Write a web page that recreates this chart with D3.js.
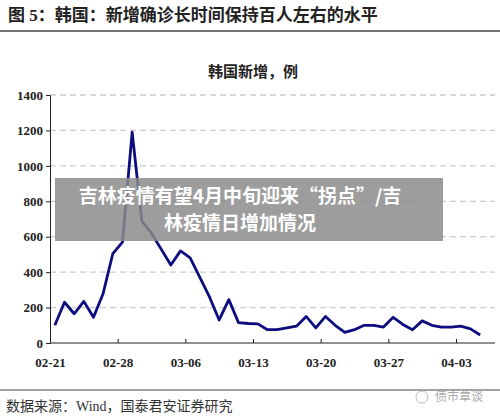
<!DOCTYPE html>
<html><head><meta charset="UTF-8">
<script src="https://cdn.jsdelivr.net/npm/d3@7"></script>
<style>body{margin:0;background:#fff}svg{display:block}</style>
</head><body>
<svg id="c" width="500" height="420"></svg>
<script>
const values = [100,230,165,235,145,280,505,570,1190,690,620,530,440,520,480,370,260,130,245,115,110,108,75,75,85,95,150,85,150,100,60,75,100,100,90,145,105,75,125,100,90,90,95,80,45];
const tickLabels = ["02-21","02-28","03-06","03-13","03-20","03-27","04-03"];
const yTicks = [0,200,400,600,800,1000,1200,1400];

const svg = d3.select("#c");
const serif = "'Liberation Serif','Noto Sans CJK SC',serif";
const x = d3.scaleBand().domain(d3.range(values.length)).range([50, 485]);
const y = d3.scaleLinear().domain([0,1400]).range([343, 95]);

svg.append("text").attr("x",8).attr("y",21).attr("font-family",serif).attr("font-weight","bold")
  .attr("font-size",17).attr("fill","#222").text("图 5：韩国：新增确诊长时间保持百人左右的水平");
svg.append("line").attr("x1",0).attr("x2",500).attr("y1",31).attr("y2",31).attr("stroke","#444").attr("stroke-width",1.5);
svg.append("text").attr("x",253).attr("y",77).attr("text-anchor","middle").attr("font-family",serif)
  .attr("font-weight","bold").attr("font-size",15).attr("fill","#222").text("韩国新增，例");

svg.append("g").selectAll("line").data(yTicks.slice(1)).join("line")
  .attr("x1",50).attr("x2",495).attr("y1",d=>y(d)).attr("y2",d=>y(d))
  .attr("stroke","#ccc").attr("stroke-width",1.3).attr("stroke-dasharray","6,4");

svg.append("g").attr("transform","translate(50,0)")
  .call(d3.axisLeft(y).tickValues(yTicks).tickFormat(d3.format("d")).tickSize(4))
  .call(g=>g.selectAll("text").attr("font-family",serif).attr("font-weight","bold").attr("font-size",13).attr("fill","#222"))
  .call(g=>g.selectAll("line,path").attr("stroke","#222"));

const xt = d3.scaleLinear().domain([0,6]).range([50, 50+6*x.bandwidth()*7]);
const xa = svg.append("g").attr("transform","translate(0,343)")
  .call(d3.axisBottom(xt).tickValues(d3.range(7)).tickFormat(i=>tickLabels[i]).tickSize(4).tickSizeOuter(0))
  .call(g=>g.select(".domain").attr("d","M50,0H495"))
  .call(g=>g.selectAll("text").attr("font-family",serif).attr("font-weight","bold").attr("font-size",13).attr("fill","#222").attr("y",15))
  .call(g=>g.selectAll("line,path").attr("stroke","#222"));
xa.selectAll(".tick line").attr("y1",-4).attr("y2",0);

svg.append("path").datum(values)
  .attr("d", d3.line().x((d,i)=>x(i)+x.bandwidth()/2).y(d=>y(d)))
  .attr("fill","none").attr("stroke","#0d0d80").attr("stroke-width",2.8).attr("stroke-linejoin","round");

svg.append("line").attr("x1",0).attr("x2",500).attr("y1",390).attr("y2",390).attr("stroke","#444").attr("stroke-width",1.2);
svg.append("text").attr("x",6).attr("y",411).attr("font-family",serif).attr("font-size",14).attr("fill","#333")
  .text("数据来源：Wind，国泰君安证券研究");
svg.append("text").attr("x",435).attr("y",401).attr("font-family","'Noto Sans CJK SC',sans-serif").attr("font-size",12).attr("fill","#aaa").text("债市覃谈");
svg.append("circle").attr("cx",422).attr("cy",397).attr("r",6).attr("fill","none").attr("stroke","#bbb");

svg.append("rect").attr("x",55).attr("y",178).attr("width",388).attr("height",63).attr("fill","#8c8c8c").attr("opacity",0.85);
const ov = svg.append("text").attr("font-family","'Noto Sans CJK SC',sans-serif").attr("font-weight","bold")
  .attr("font-size",19).attr("fill","#fff").attr("text-anchor","middle");
ov.append("tspan").attr("x",240).attr("y",203).text("吉林疫情有望4月中旬迎来“拐点”/吉");
ov.append("tspan").attr("x",240).attr("y",230).text("林疫情日增加情况");
</script>
</body></html>
